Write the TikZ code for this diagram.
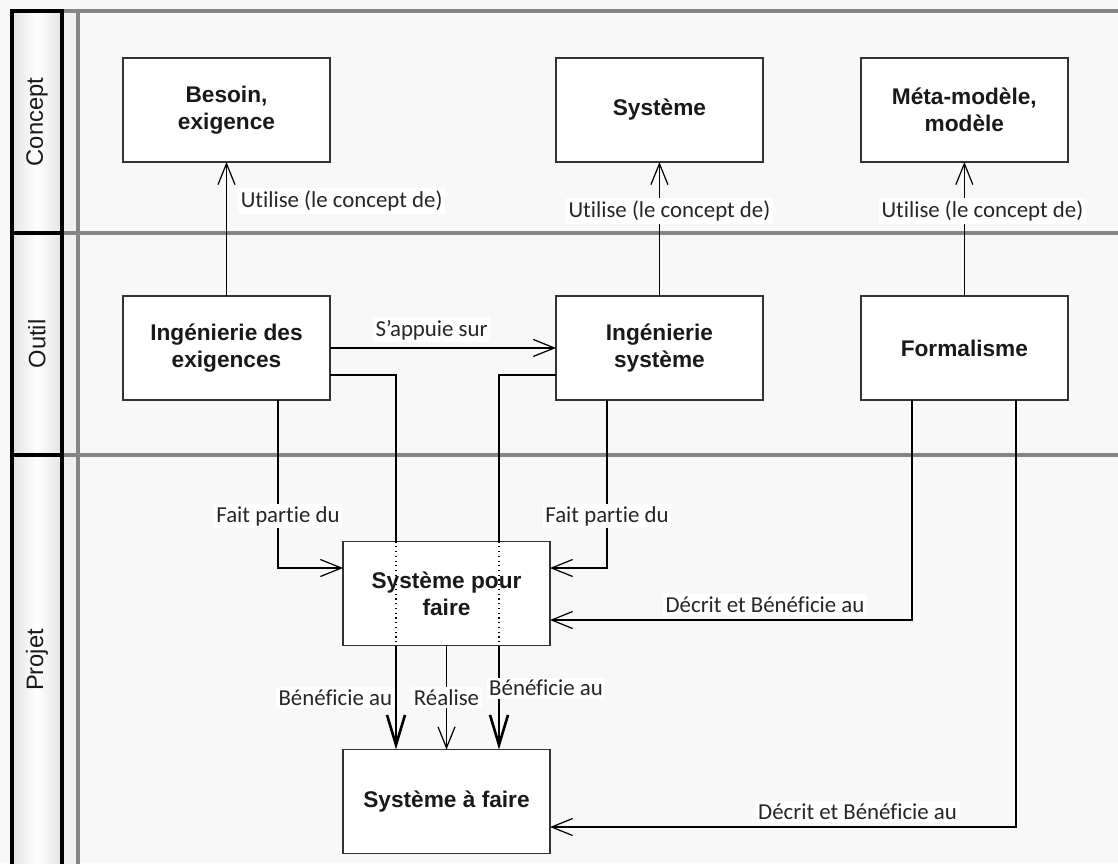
\documentclass[tikz,border=0pt]{standalone}
\usepackage{fontspec}
\setmainfont{Carlito}[Ligatures=NoCommon]
\newfontfamily\boxfont{Liberation Sans}
\usepackage{xcolor}
\usepackage{tikz}
\usetikzlibrary{arrows.meta, positioning}

\definecolor{bgcol}{HTML}{F8F8F8}
\definecolor{laneline}{HTML}{858585}
\definecolor{boxline}{HTML}{333333}
\definecolor{lbltext}{HTML}{262626}

\begin{document}
\begin{tikzpicture}[
    x=0.02cm, y=-0.02cm,
    box/.style={
        rectangle,
        draw=boxline,
        line width=0.8pt,
        fill=white,
        align=center,
        minimum width=4.14cm,
        minimum height=2.08cm,
        outer sep=0pt,
        text=black!90,
        font=\boxfont\bfseries\fontsize{12.9}{15.4}\selectfont
    },
    lanelabel/.style={
        rotate=90,
        text=black!90,
        font=\boxfont\fontsize{13.5}{16}\selectfont
    },
    lbl/.style={
        font=\fontsize{13}{15}\selectfont,
        text=lbltext,
        fill=white,
        inner sep=1.5pt
    },
    link/.style={line width=0.7pt},
    thickline/.style={line width=1.5pt},
    arrow/.style={-{Straight Barb[length=0.42cm, width=0.34cm]}, line width=0.7pt},
    bigarrow/.style={-{Straight Barb[length=0.6cm, width=0.36cm]}, line width=1.5pt}
]

\fill[bgcol] (0,0) rectangle (1118,863);
\useasboundingbox (0,0) rectangle (1118,863);

% swimlanes
\shade[left color=gray!22, right color=gray!22, middle color=white] (12,11) rectangle (62,880);
\fill[gray!12] (62,11) rectangle (78,880);
\foreach \y in {11,233,455}
    \draw[laneline, line width=2pt] (62,\y) -- (1118,\y);
\draw[laneline, line width=2pt] (78,11) -- (78,880);
\foreach \a/\b in {11/233, 233/455, 455/880}
    \draw[line width=1.8pt] (12,\a) rectangle (62,\b);

\node[lanelabel] (concept) at (37,122) {Concept};
\node[lanelabel] (outil) at (37,344) {Outil};
\node[lanelabel] (projet) at (37,660) {Projet};

\node[box] (besoin) at (226.5,110) {Besoin,\\exigence};
\node[box, right=4.52cm of besoin] (systeme) {Système};
\node[box, right=1.96cm of systeme] (meta) {Méta-modèle,\\modèle};

\node[box, below=2.68cm of besoin] (ingexig) {Ingénierie des\\exigences};
\node[box, below=2.68cm of systeme] (ingsys) {Ingénierie\\système};
\node[box, below=2.68cm of meta] (formalisme) {Formalisme};

\node[box] (spf) at (446.5,593.5) {Système pour\\faire};
\node[box, below=2.08cm of spf] (saf) {Système à faire};

\coordinate (b1) at (396,375);
\coordinate (b2) at (499,375);
\coordinate (f1) at (278,568);
\coordinate (f2) at (607,568);
\coordinate (d1) at (912,620);
\coordinate (d2) at (1016,827);

\draw[arrow] (ingexig) -- node[lbl, right, pos=0.71, xshift=0.22cm] {Utilise (le concept de)} (besoin);
\draw[arrow] (ingsys) -- node[lbl, pos=0.634, xshift=0.2cm] {Utilise (le concept de)} (systeme);
\draw[arrow] (formalisme) -- node[lbl, pos=0.634, xshift=0.36cm] {Utilise (le concept de)} (meta);

\draw[arrow] (ingexig) -- node[lbl, above, pos=0.45, yshift=0.1cm] {S’appuie sur} (ingsys);

\draw[thickline] (ingexig.east |- b1) -- (b1) -- (b1 |- spf.north);
\draw[link, dotted] (b1 |- spf.north) -- (b1 |- spf.south);
\draw[bigarrow] (b1 |- spf.south) -- node[lbl, left, pos=0.5] {Bénéficie au} (b1 |- saf.north);

\draw[thickline] (ingsys.west |- b2) -- (b2) -- (b2 |- spf.north);
\draw[link, dotted] (b2 |- spf.north) -- (b2 |- spf.south);
\draw[bigarrow] (b2 |- spf.south) -- node[lbl, pos=0.41, xshift=0.94cm] {Bénéficie au} (b2 |- saf.north);

\draw[arrow] (spf) -- node[lbl, pos=0.5] {Réalise} (saf);

\draw[arrow] (ingexig.south -| f1) -- node[lbl, pos=0.69] {Fait partie du} (f1) -- (spf.west |- f1);
\draw[arrow] (ingsys.south -| f2) -- node[lbl, pos=0.69] {Fait partie du} (f2) -- (spf.east |- f2);

\draw[arrow] (formalisme.south -| d1) -- (d1) -- node[lbl, above, pos=0.406, yshift=0.08cm] {Décrit et Bénéficie au} (spf.east |- d1);
\draw[arrow] (formalisme.south -| d2) -- (d2) -- node[lbl, above, pos=0.34, yshift=0.08cm] {Décrit et Bénéficie au} (saf.east |- d2);

\end{tikzpicture}
\end{document}
